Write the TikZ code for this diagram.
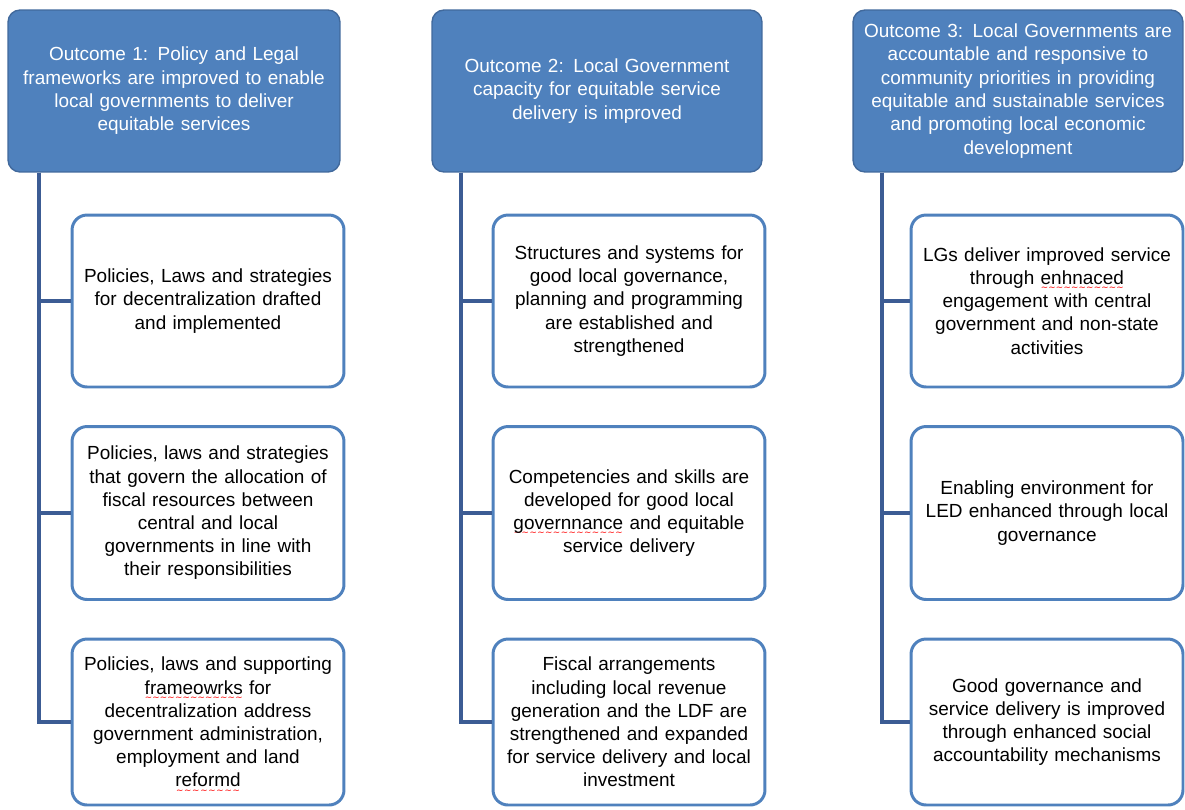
\documentclass[tikz,border=0pt]{standalone}
\usepackage{fontspec}
\setmainfont{Liberation Sans}
\newfontfamily\wavefont{DejaVu Sans}
\usepackage{tikz}
\usetikzlibrary{calc}

\definecolor{hdrblue}{HTML}{4F81BD}
\definecolor{hdredge}{HTML}{41699C}
\definecolor{trunkblue}{HTML}{3C5C94}

% red spell-check wave under a word
\newsavebox{\typobox}
\newcommand{\typo}[1]{\leavevmode\sbox{\typobox}{#1}%
  \rlap{\raisebox{-3.6pt}[0pt][0pt]{\color{red}\wavefont\fontsize{5}{5}\selectfont
    \hbox to \wd\typobox{\xleaders\hbox{∼}\hfill}}}\usebox{\typobox}}

\begin{document}
\begin{tikzpicture}[x=0.02cm,y=-0.02cm,
  outcome/.style={rectangle,rounded corners=0.24cm,fill=hdrblue,draw=hdredge,line width=0.8pt,
    minimum height=3.24cm,text width=6.3cm,align=center,inner sep=0pt,text=white,
    font=\fontsize{10.8}{13.3}\selectfont},
  output/.style={rectangle,rounded corners=0.3cm,fill=white,draw=hdrblue,line width=1.7pt,
    minimum width=5.44cm,text width=5.1cm,align=center,inner sep=0pt,
    font=\fontsize{10.8}{13.2}\selectfont},
  link/.style={draw=trunkblue,line width=2.2pt}]

\useasboundingbox (0,0) rectangle (1185,809);

% Outcome headers
\node[outcome,minimum width=6.64cm] (hdr1) at (174,91)
  {Outcome 1: Policy and Legal\\ frameworks are improved to enable\\ local governments to deliver\\ equitable services};
\node[outcome,minimum width=6.6cm] (hdr2) at (597,91)
  {Outcome 2: Local Government\\ capacity for equitable service\\ delivery is improved};
\node[outcome,minimum width=6.6cm] (hdr3) at (1018,91)
  {Outcome 3: Local Governments are\\ accountable and responsive to\\ community priorities in providing\\ equitable and sustainable services\\ and promoting local economic\\ development};

% Outputs, column 1
\node[output,minimum height=3.44cm] (out1a) at (208,301)
  {Policies, Laws and strategies\\ for decentralization drafted\\ and implemented};
\node[output,minimum height=3.46cm] (out1b) at (208,513)
  {Policies, laws and strategies\\ that govern the allocation of\\ fiscal resources between\\ central and local\\ governments in line with\\ their responsibilities};
\node[output,minimum height=3.32cm] (out1c) at (208,722)
  {Policies, laws and supporting\\ \typo{frameowrks} for\\ decentralization address\\ government administration,\\ employment and land\\ \typo{reformd}};

% Outputs, column 2
\node[output,minimum height=3.44cm] (out2a) at (629,301)
  {Structures and systems for\\ good local governance,\\ planning and programming\\ are established and\\ strengthened};
\node[output,minimum height=3.46cm] (out2b) at (629,513)
  {Competencies and skills are\\ developed for good local\\ \typo{governnance} and equitable\\ service delivery};
\node[output,minimum height=3.32cm] (out2c) at (629,722)
  {Fiscal arrangements\\ including local revenue\\ generation and the LDF are\\ strengthened and expanded\\ for service delivery and local\\ investment};

% Outputs, column 3
\node[output,minimum height=3.44cm] (out3a) at (1047,301)
  {LGs deliver improved service\\ through \typo{enhnaced}\\ engagement with central\\ government and non-state\\ activities};
\node[output,minimum height=3.46cm] (out3b) at (1047,513)
  {Enabling environment for\\ LED enhanced through local\\ governance};
\node[output,minimum height=3.32cm] (out3c) at (1047,722)
  {Good governance and\\ service delivery is improved\\ through enhanced social\\ accountability mechanisms};

% Trunks and branches
\coordinate (trk1) at ($(hdr1.south west)+(32,0)$);
\coordinate (trk2) at ($(hdr2.south west)+(30,0)$);
\coordinate (trk3) at ($(hdr3.south west)+(30,0)$);
\foreach \c in {1,2,3}{
  \foreach \r in {a,b,c}{
    \draw[link] (trk\c) |- (out\c\r.west);
  }
}

\end{tikzpicture}
\end{document}
